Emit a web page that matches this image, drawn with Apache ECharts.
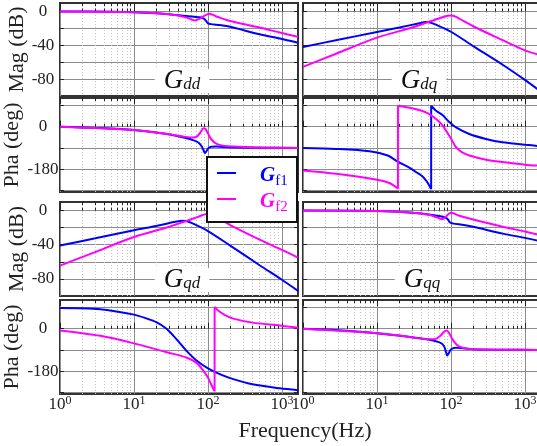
<!DOCTYPE html>
<html>
<head>
<meta charset="utf-8">
<script src="https://cdn.jsdelivr.net/npm/echarts@6/dist/echarts.min.js"></script>
<style>
html, body { margin: 0; padding: 0; background: #fff; }
#main { width: 537px; height: 446px; }
</style>
</head>
<body>
<div id="main"></div>
<script>
// 曲线数据 [频率(Hz), 值]
const ddMagF1 = [[1, 0], [5, -0.3], [10, -0.8], [20, -2], [30, -3.2], [51, -5.5], [65, -6.3], [78, -6.9], [88, -8.5], [95, -11.5], [100, -14], [110, -15], [131, -15.7], [187, -17.6], [500, -27], [940, -32], [1650, -37]];
const ddMagF2 = [[1, 0], [10, -0.8], [30, -3.2], [51, -7], [60, -9.5], [67, -10.6], [78, -8.6], [91, -4.7], [104, -2.7], [131, -5.9], [187, -10.6], [500, -19], [940, -25], [1650, -30]];

const dqMagF1 = [[1, -42], [3, -33.5], [10, -24.3], [20, -19], [35, -14.5], [46, -12.6], [52, -13], [60, -15], [100, -24], [200, -41], [500, -63], [1000, -81], [1650, -95]];
const dqMagF2 = [[1, -65.5], [2.8, -50], [10, -31], [30, -19], [46, -13.5], [70, -8], [90, -5], [100, -4.7], [115, -6], [200, -17.5], [500, -34], [1000, -46], [1650, -52]];

const ddPhaF1 = [[1, 0], [3, -5], [10, -14], [28, -31], [50, -48], [63, -57], [75, -68], [83, -85], [88, -103], [91, -112], [95, -105], [100, -93], [110, -85], [130, -84], [200, -87], [500, -89], [1650, -90]];
const ddPhaF2 = [[1, 0], [10, -14], [28, -31], [50, -43], [63, -46], [72, -40], [80, -22], [87, -6], [92, -8], [100, -28], [110, -52], [131, -73], [187, -83], [500, -88], [1650, -90]];

const dqPhaF1 = [[1, -90], [2.8, -94], [8, -104], [14, -122], [19, -148], [27, -172], [34, -193], [41, -210], [46, -228], [50, -245], [54, -265], [54.05, 90], [63, 68], [77, 50], [95, 20], [117, -3], [177, -31], [297, -52], [497, -66], [1000, -76], [1650, -83]];
const dqPhaF2 = [[1, -186], [2.8, -200], [10, -225], [15, -240], [19.2, -263], [19.22, 89], [30, 78], [46, 61], [63, 33], [75, 10], [86, -17], [100, -50], [117, -87], [140, -108], [177, -122], [300, -140], [497, -150], [1000, -161], [1650, -166]];

const qdMagF1 = [[1, -41], [3, -32.5], [10, -23], [20, -18], [35, -13.5], [46, -12], [52, -12.5], [60, -14.5], [100, -24], [200, -41], [500, -64], [1000, -81], [1650, -94]];
const qdMagF2 = [[1, -64.5], [2.8, -49.5], [10, -31], [30, -19], [46, -13.5], [70, -8], [90, -4.5], [100, -4], [115, -5.5], [200, -17], [500, -34], [1000, -46], [1650, -55]];

const qqMagF1 = [[1, 0], [10, -0.5], [30, -2.5], [50, -4.5], [65, -6], [80, -7.5], [90, -10], [97, -14], [105, -15], [150, -17], [200, -19], [500, -27], [1000, -32], [1650, -36]];
const qqMagF2 = [[1, 0], [10, -0.5], [30, -2.5], [50, -5], [65, -8], [74, -10], [80, -9.5], [88, -6], [95, -3.5], [100, -2.7], [110, -3.5], [130, -6], [200, -10.5], [500, -19], [1000, -24.5], [1650, -29]];

const qdPhaF1 = [[1, 88], [3.5, 83], [10, 60], [15, 43], [20, 28], [27, 2], [34, -29], [42, -62], [51, -93], [70, -135], [100, -168], [150, -195], [220, -214], [400, -236], [940, -253], [1650, -261]];
const qdPhaF2 = [[1, -7], [3.5, -30], [10, -62], [28, -100], [51, -122], [70, -145], [85, -175], [100, -207], [112, -240], [123, -266], [123.1, 93], [140, 75], [170, 58], [220, 43], [400, 26], [940, 14], [1650, 4]];

const qqPhaF1 = [[1, 0], [3, -6], [10, -19], [25, -33], [51, -47], [70, -58], [80, -72], [86, -100], [89, -114], [93, -105], [100, -88], [117, -81], [200, -87], [500, -89], [1650, -90]];
const qqPhaF2 = [[1, 0], [10, -19], [25, -33], [51, -45], [62, -43], [72, -30], [80, -14], [86, -7], [93, -15], [105, -45], [120, -68], [144, -81], [200, -87], [500, -89], [1650, -90]];

// 刻度
const majorTicks = [1, 10, 100, 1000];
const minorTicks = [2, 3, 4, 5, 6, 7, 8, 9, 20, 30, 40, 50, 60, 70, 80, 90, 200, 300, 400, 500, 600, 700, 800, 900];
const magGrid = [0, -20, -40, -60, -80];
const magLabels = [0, -40, -80];
const phaGrid = [90, 0, -90, -180, -270];
const phaLabels = [0, -180];

const FONT = '"Liberation Serif", "Times New Roman", serif';
const BLUE = '#0000ff';
const PINK = '#ff00ff';

const panels = [
    { left: 60,  top: 3,   height: 93, kind: 'mag', f1: ddMagF1, f2: ddMagF2 },
    { left: 303, top: 3,   height: 93, kind: 'mag', f1: dqMagF1, f2: dqMagF2 },
    { left: 60,  top: 98,  height: 94, kind: 'pha', f1: ddPhaF1, f2: ddPhaF2 },
    { left: 303, top: 98,  height: 94, kind: 'pha', f1: dqPhaF1, f2: dqPhaF2 },
    { left: 60,  top: 202, height: 94, kind: 'mag', f1: qdMagF1, f2: qdMagF2 },
    { left: 303, top: 202, height: 94, kind: 'mag', f1: qqMagF1, f2: qqMagF2 },
    { left: 60,  top: 300, height: 94, kind: 'pha', f1: qdPhaF1, f2: qdPhaF2 },
    { left: 303, top: 300, height: 94, kind: 'pha', f1: qqPhaF1, f2: qqPhaF2 }
]

// 相位跳变处断开，竖线单独画
function withBreaks(pts) {
    let out = []
    for (let i = 0; i < pts.length; i++) {
        let p = pts[i], q = pts[i - 1]
        if (q && p[0] / q[0] < 1.005) {
            out.push([q[0], '-'], q, p, [p[0], '-'], p)
        } else {
            out.push(p)
        }
    }
    return out
}

let grid = [], xAxis = [], yAxis = [], series = []
panels.forEach((p, i) => {
    let leftCol = p.left < 100
    let bottomRow = i >= 6
    let isMag = p.kind === 'mag'
    grid.push({
        left: p.left, top: p.top, width: 238, height: p.height,
        show: true, borderColor: '#333', borderWidth: 2, backgroundColor: 'transparent',
        containLabel: false, outerBoundsMode: 'none'
    })
    let xBase = { gridIndex: i, type: 'log', logBase: 10, min: 1, max: 1650, axisLine: { show: false } }
    xAxis.push(Object.assign({}, xBase, {
        position: 'bottom',
        axisTick: { show: true, inside: true, length: 6, customValues: majorTicks, lineStyle: { color: '#222', width: 1 } },
        axisLabel: {
            show: bottomRow, customValues: majorTicks, margin: 1,
            formatter: v => '{b|10}{e|' + Math.round(Math.log10(v)) + '}',
            rich: {
                b: { fontSize: 17, fontFamily: FONT, color: '#222', lineHeight: 20 },
                e: { fontSize: 12, fontFamily: FONT, color: '#222', lineHeight: 12, verticalAlign: 'top' }
            }
        },
        splitLine: { show: true, lineStyle: { color: '#8c8c8c', width: 1 } }
    }))
    xAxis.push(Object.assign({}, xBase, {
        position: 'bottom',
        axisTick: { show: true, inside: true, length: 3, customValues: minorTicks, lineStyle: { color: '#222', width: 1 } },
        axisLabel: { show: false },
        splitLine: { show: true, lineStyle: { color: '#c4c4c4', width: 1, type: [1, 2] } }
    }))
    xAxis.push(Object.assign({}, xBase, {
        position: 'top',
        axisTick: { show: true, inside: true, length: 6, customValues: majorTicks, lineStyle: { color: '#222', width: 1 } },
        axisLabel: { show: false }, splitLine: { show: false }
    }))
    xAxis.push(Object.assign({}, xBase, {
        position: 'top',
        axisTick: { show: true, inside: true, length: 3, customValues: minorTicks, lineStyle: { color: '#222', width: 1 } },
        axisLabel: { show: false }, splitLine: { show: false }
    }))

    let yMin = isMag ? -100 : -277
    let yMax = isMag ? 10 : 122
    let gv = isMag ? magGrid : phaGrid
    yAxis.push({
        gridIndex: i, type: 'value', min: yMin, max: yMax, position: 'left',
        axisLine: { show: false },
        axisTick: { show: true, inside: true, length: 4, customValues: gv, lineStyle: { color: '#222' } },
        axisLabel: {
            show: leftCol, customValues: isMag ? magLabels : phaLabels,
            align: 'center', margin: 17, fontSize: 17, fontFamily: FONT, color: '#222'
        },
        splitLine: { show: true, lineStyle: { color: '#8c8c8c', width: 1 } },
        name: leftCol ? (isMag ? 'Mag (dB)' : 'Pha (deg)') : '',
        nameLocation: 'middle', nameGap: 32,
        nameTextStyle: { fontSize: 22, fontFamily: FONT, color: '#222' }
    })
    yAxis.push({
        gridIndex: i, type: 'value', min: yMin, max: yMax, position: 'right',
        axisLine: { show: false },
        axisTick: { show: true, inside: true, length: 4, customValues: gv, lineStyle: { color: '#222' } },
        axisLabel: { show: false }, splitLine: { show: false }
    })

    series.push({
        type: 'line', name: 'Gf1', xAxisIndex: i * 4, yAxisIndex: i * 2,
        data: withBreaks(p.f1), showSymbol: false, smooth: 0.3,
        lineStyle: { color: BLUE, width: 2 }, itemStyle: { color: BLUE }, z: 3
    })
    series.push({
        type: 'line', name: 'Gf2', xAxisIndex: i * 4, yAxisIndex: i * 2,
        data: withBreaks(p.f2), showSymbol: false, smooth: 0.3,
        lineStyle: { color: PINK, width: 2 }, itemStyle: { color: PINK }, z: 4
    })
})

// 子图标题
function titleText(x, y, sub) {
    return {
        type: 'text', x: x, y: y, z: 50,
        style: {
            text: '{g|G}{s|' + sub + '}',
            align: 'center', verticalAlign: 'middle',
            backgroundColor: '#fff', padding: [0, 9],
            rich: {
                g: { fontSize: 27, fontFamily: FONT, fontStyle: 'italic', fill: '#111', lineHeight: 22 },
                s: { fontSize: 17, fontFamily: FONT, fontStyle: 'italic', fill: '#111', lineHeight: 24, verticalAlign: 'bottom' }
            }
        }
    }
}

function legendText(y, color, sub) {
    return {
        type: 'text', x: 260, y: y, z: 101,
        style: {
            text: '{g|G}{s|' + sub + '}',
            align: 'left', verticalAlign: 'middle',
            rich: {
                g: { fontSize: 21, fontFamily: FONT, fontStyle: 'italic', fontWeight: 'bold', fill: color, lineHeight: 22 },
                s: { fontSize: 15, fontFamily: FONT, fill: color, lineHeight: 26, verticalAlign: 'bottom' }
            }
        }
    }
}

const graphic = [
    titleText(182, 81, 'dd'),
    titleText(419, 81, 'dq'),
    titleText(182, 280, 'qd'),
    titleText(422, 280, 'qq'),
    {
        type: 'rect', z: 100,
        shape: { x: 207, y: 157, width: 90, height: 65 },
        style: { fill: '#fff', stroke: '#111', lineWidth: 2 }
    },
    { type: 'line', z: 101, shape: { x1: 217, y1: 173, x2: 236, y2: 173 }, style: { stroke: BLUE, lineWidth: 2 } },
    { type: 'line', z: 101, shape: { x1: 217, y1: 199, x2: 236, y2: 199 }, style: { stroke: PINK, lineWidth: 2 } },
    legendText(176, BLUE, 'f1'),
    legendText(202, PINK, 'f2'),
    {
        type: 'text', x: 305, y: 431, z: 50,
        style: { text: 'Frequency(Hz)', align: 'center', verticalAlign: 'middle', fontSize: 22, fontFamily: FONT, fill: '#222' }
    }
]

const chart = echarts.init(document.getElementById('main'))
chart.setOption({
    animation: false,
    backgroundColor: '#fff',
    grid: grid,
    xAxis: xAxis,
    yAxis: yAxis,
    series: series,
    graphic: graphic
})
</script>
</body>
</html>
